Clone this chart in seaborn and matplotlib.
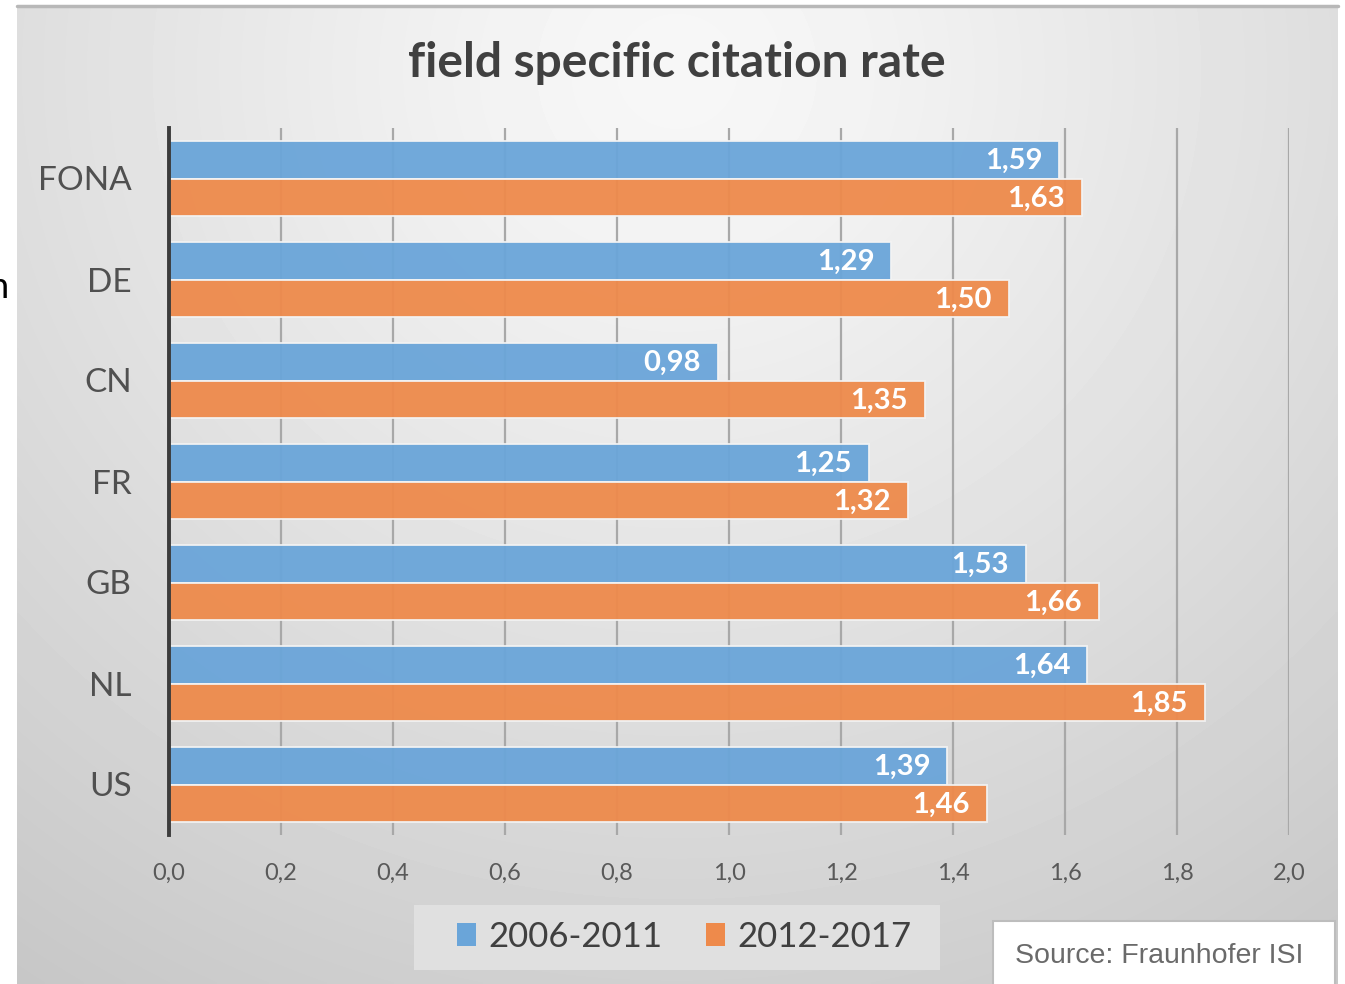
import numpy as np
import pandas as pd
import matplotlib
matplotlib.use("Agg")
import matplotlib.pyplot as plt
from matplotlib.patches import Patch, Rectangle
import seaborn as sns

# ---- data ----
countries = ["FONA", "DE", "CN", "FR", "GB", "NL", "US"]
periods = ["2006-2011", "2012-2017"]
values_2006_2011 = [1.59, 1.29, 0.98, 1.25, 1.53, 1.64, 1.39]
values_2012_2017 = [1.63, 1.50, 1.35, 1.32, 1.66, 1.85, 1.46]
xticks = [0.0, 0.2, 0.4, 0.6, 0.8, 1.0, 1.2, 1.4, 1.6, 1.8, 2.0]
title = "field specific citation rate"
source = "Source: Fraunhofer ISI"

colors = ["#6aa5d9", "#ee8a4b"]

df = pd.DataFrame({
    "country": countries * 2,
    "period": [periods[0]] * len(countries) + [periods[1]] * len(countries),
    "value": values_2006_2011 + values_2012_2017,
})

sns.set_theme(style="white")
plt.rcParams["font.family"] = ["Lato", "DejaVu Sans"]

W, H = 1345, 984
fig = plt.figure(figsize=(W / 100, H / 100), dpi=100)
fig.patch.set_facecolor("white")

def fx(px):
    return px / W

def fy(py):
    return 1 - py / H

# ---- gradient background frame ----
x0, x1, y0, y1 = 17, 1338, 5, 984
bg = fig.add_axes([fx(x0), fy(y1), fx(x1 - x0), (y1 - y0) / H])
bg.set_zorder(0)
gx = np.linspace(x0, x1, 400)
gy = np.linspace(y0, y1, 300)
GX, GY = np.meshgrid(gx, gy)
d = np.sqrt(((GX - 677) / 1.05) ** 2 + ((GY - 70) * 1.0) ** 2 + 150 ** 2)
img = 254 - 56 * np.clip(d / 1130, 0, 1.2)
bg.imshow(img, cmap="gray", vmin=0, vmax=255, aspect="auto",
          extent=[0, 1, 0, 1], origin="upper", interpolation="bilinear")
bg.set_xlim(0, 1)
bg.set_ylim(0, 1)
bg.axis("off")
fig.add_artist(plt.Line2D([fx(x0), fx(x1)], [fy(y0 + 1), fy(y0 + 1)],
                          color="#b8b8b8", lw=2.5, transform=fig.transFigure))

# ---- main axes ----
ax = fig.add_axes([fx(169), fy(835), fx(1120), 707 / H])
ax.set_zorder(2)
ax.patch.set_alpha(0)

sns.barplot(data=df, y="country", x="value", hue="period", orient="h",
            palette=colors, width=0.75, saturation=1, ax=ax,
            edgecolor="#f3f3f3", linewidth=1.3, legend=False, alpha=0.95)

ax.set_xlim(0, 2.0)
ax.set_ylim(6.5, -0.5)
ax.set_xticks(xticks)
ax.set_xticklabels([f"{t:.1f}".replace(".", ",") for t in xticks])
ax.xaxis.grid(True, color="#a8a8a8", lw=1.6)
ax.yaxis.grid(False)
ax.set_axisbelow(True)
for s in ["top", "right", "bottom"]:
    ax.spines[s].set_visible(False)
ax.spines["left"].set_color("#3c3c3c")
ax.spines["left"].set_linewidth(2.8)
ax.set_xlabel("")
ax.set_ylabel("")
ax.tick_params(axis="x", length=0, pad=20, labelsize=17, labelcolor="#595959")
ax.tick_params(axis="y", length=0, pad=27, labelsize=24, labelcolor="#505050")

# data labels
for cont in ax.containers:
    for p in cont.patches:
        v = p.get_width()
        ax.annotate(f"{v:.2f}".replace(".", ","),
                    xy=(v, p.get_y() + p.get_height() / 2),
                    xytext=(-17, -1), textcoords="offset pixels",
                    ha="right", va="center", color="white",
                    fontsize=21, fontweight="bold")

# title
fig.text(fx(677), fy(63), title, ha="center", va="center",
         fontsize=34.5, fontweight="bold", color="#404040")

# legend box + legend
fig.add_artist(Rectangle((fx(414), fy(970)), fx(526), 65 / H,
                         transform=fig.transFigure, facecolor="#e0e0e0",
                         edgecolor="none", zorder=3))
handles = [Patch(facecolor=c, edgecolor="none") for c in colors]
leg = fig.legend(handles, periods, loc="center",
                 bbox_to_anchor=(fx(684), fy(937)), ncol=2,
                 frameon=False,
                 prop={"size": 25, "family": ["Lato", "DejaVu Sans"]},
                 handlelength=0.55, handleheight=0.65, handletextpad=0.35,
                 columnspacing=1.25, borderpad=0.45)
leg.set_zorder(4)
for t in leg.get_texts():
    t.set_color("#404040")

# source box
fig.add_artist(Rectangle((fx(993), fy(990)), fx(342), (990 - 921) / H,
                         transform=fig.transFigure, facecolor="white",
                         edgecolor="#bdbdbd", lw=1.5, zorder=5))
fig.text(fx(1015), fy(956), source, ha="left", va="center",
         fontsize=20.5, color="#6a6a6a", family=["Liberation Sans", "DejaVu Sans"],
         zorder=6)

# stray clipped character on the left edge (as in the reference)
fig.text(fx(9), fy(288), "n", ha="right", va="center", fontsize=26,
         color="black")

fig.savefig("out.png", dpi=100)
